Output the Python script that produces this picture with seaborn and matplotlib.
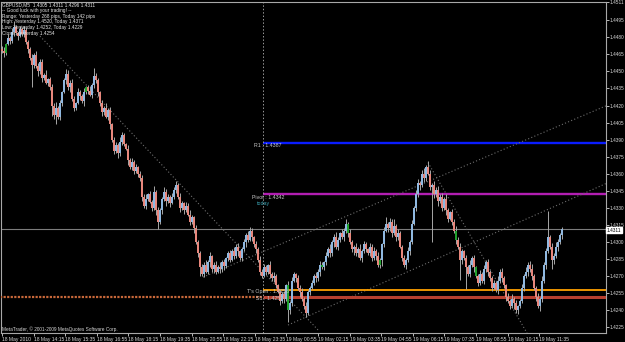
import numpy as np
import pandas as pd
import matplotlib
matplotlib.use("Agg")
import matplotlib.pyplot as plt
from matplotlib import font_manager
import seaborn as sns

# ---------------- data ----------------
BASE = 1.4200
first_open_pips = 270
# closes in pips above 1.4200, one per 5-minute bar
close_pips = [
    268, 266, 274, 279, 277, 285, 289, 284, 281, 287, 283, 286, 276, 270, 262, 256, 264, 255, 250, 258,
    244, 247, 240, 243, 236, 220, 212, 218, 210, 222, 232, 242, 248, 236, 240, 226, 218, 222, 232, 228,
    224, 232, 236, 233, 229, 238, 246, 242, 232, 222, 214, 218, 210, 216, 204, 190, 180, 185, 178, 188,
    194, 186, 182, 172, 166, 170, 162, 166, 160, 156, 140, 132, 138, 142, 135, 130, 144, 128, 118, 128,
    138, 144, 136, 140, 134, 140, 146, 150, 140, 130, 134, 128, 132, 124, 118, 122, 112, 100, 90, 78,
    72, 80, 74, 82, 88, 76, 80, 74, 78, 76, 82, 79, 86, 90, 84, 92, 88, 96, 92, 86,
    94, 100, 106, 102, 110, 104, 98, 94, 84, 74, 70, 78, 74, 80, 72, 68, 70, 62, 56, 48,
    54, 50, 62, 40, 46, 66, 72, 68, 60, 56, 50, 44, 38, 56, 60, 64, 70, 68, 74, 80,
    78, 82, 88, 94, 90, 100, 104, 96, 102, 108, 104, 110, 116, 108, 100, 94, 96, 90, 94, 86,
    92, 98, 94, 90, 96, 86, 92, 88, 80, 84, 98, 110, 116, 112, 118, 108, 114, 104, 108, 96,
    86, 80, 84, 92, 100, 116, 130, 142, 152, 150, 160, 156, 166, 160, 148, 150, 142, 146, 136, 140,
    130, 138, 128, 120, 126, 118, 110, 102, 96, 84, 92, 86, 78, 72, 80, 86, 78, 70, 64, 72,
    66, 76, 82, 74, 68, 60, 64, 58, 66, 74, 68, 62, 52, 48, 44, 50, 46, 40, 44, 48,
    60, 70, 74, 80, 76, 70, 60, 52, 44, 50, 66, 80, 92, 104, 96, 84, 88, 96, 100, 106,
    111,
]
wick_up = [
    2, 3, 1, 4, 2, 3, 5, 2, 1, 3, 2, 4, 3, 2, 1, 3, 2, 4, 2, 3,
    3, 2, 4, 1, 2, 3, 2, 5, 2, 3, 1, 2, 4, 3, 2, 3, 2, 1, 3, 2,
    2, 3, 1, 2, 4, 2, 7, 3, 2, 1, 3, 2, 4, 2, 3, 1, 2, 3, 2, 4,
    3, 2, 1, 3, 2, 4, 2, 3, 1, 2, 3, 2, 4, 1, 3, 2, 5, 2, 3, 2,
    2, 4, 3, 2, 1, 3, 2, 4, 2, 3, 2, 1, 3, 2, 4, 2, 1, 3, 2, 2,
    3, 2, 4, 2, 3, 1, 2, 3, 2, 4, 2, 3, 1, 2, 3, 2, 4, 2, 3, 1,
    2, 3, 2, 4, 3, 2, 1, 3, 2, 4, 2, 3, 2, 1, 3, 2, 4, 2, 1, 3,
    2, 3, 1, 4, 2, 3, 2, 1, 3, 2, 4, 2, 3, 2, 1, 3, 2, 4, 2, 3,
    2, 1, 3, 2, 4, 2, 3, 5, 2, 1, 3, 2, 4, 2, 3, 2, 1, 3, 2, 4,
    2, 3, 2, 1, 3, 2, 4, 2, 3, 2, 1, 3, 6, 2, 3, 2, 6, 2, 3, 2,
    1, 3, 2, 4, 2, 3, 2, 4, 3, 2, 3, 5, 2, 5, 3, 2, 4, 2, 3, 2,
    3, 2, 4, 2, 1, 3, 2, 4, 2, 3, 2, 1, 3, 2, 4, 2, 3, 1, 2, 3,
    2, 4, 2, 3, 1, 2, 3, 2, 4, 2, 3, 2, 1, 3, 2, 4, 2, 3, 1, 2,
    3, 2, 4, 2, 3, 5, 2, 1, 3, 2, 4, 2, 3, 23, 2, 3, 2, 4, 3, 2,
    2,
]
wick_dn = [
    2, 3, 2, 1, 3, 2, 4, 2, 3, 1, 2, 3, 2, 4, 2, 20, 3, 2, 4, 2,
    3, 2, 1, 3, 2, 9, 4, 8, 2, 3, 2, 1, 3, 2, 4, 2, 3, 2, 1, 3,
    2, 4, 2, 3, 1, 2, 3, 2, 4, 2, 3, 2, 1, 3, 5, 2, 3, 2, 4, 2,
    3, 2, 1, 4, 2, 3, 2, 1, 3, 2, 4, 2, 3, 2, 1, 3, 2, 4, 7, 2,
    3, 2, 4, 2, 3, 1, 2, 3, 2, 4, 2, 3, 2, 1, 3, 2, 4, 2, 3, 8,
    2, 3, 1, 2, 4, 2, 3, 2, 1, 3, 2, 4, 2, 3, 2, 1, 3, 2, 4, 2,
    3, 2, 4, 2, 1, 3, 2, 4, 2, 3, 2, 1, 3, 2, 4, 2, 3, 2, 1, 3,
    2, 4, 2, 10, 3, 2, 1, 3, 2, 4, 2, 3, 4, 2, 3, 1, 2, 3, 2, 4,
    2, 3, 2, 1, 3, 2, 4, 2, 3, 2, 1, 3, 2, 4, 2, 3, 5, 2, 3, 2,
    4, 2, 3, 1, 2, 3, 2, 4, 2, 3, 5, 2, 1, 3, 2, 4, 2, 3, 2, 1,
    3, 2, 4, 2, 3, 2, 1, 3, 2, 4, 2, 3, 2, 1, 2, 48, 3, 2, 4, 2,
    3, 2, 4, 2, 1, 3, 2, 4, 2, 17, 3, 2, 19, 2, 3, 2, 4, 2, 3, 2,
    2, 3, 2, 4, 2, 3, 1, 2, 4, 2, 3, 2, 4, 2, 3, 2, 5, 2, 3, 2,
    2, 3, 2, 4, 2, 3, 2, 4, 2, 5, 3, 2, 4, 2, 2, 8, 3, 2, 4, 2,
    3,
]
green_bars = [2, 42, 143, 160, 173, 189, 227, 237]

time_labels = ["18 May 2010", "18 May 14:15", "18 May 15:35", "18 May 16:55", "18 May 18:15",
               "18 May 19:35", "18 May 20:55", "18 May 22:15", "18 May 23:35", "19 May 00:55",
               "19 May 02:15", "19 May 03:35", "19 May 04:55", "19 May 06:15", "19 May 07:35",
               "19 May 08:55", "19 May 10:15", "19 May 11:35"]
price_ticks = [1.4511, 1.4495, 1.4480, 1.4465, 1.4450, 1.4435, 1.4420, 1.4405, 1.4390, 1.4375,
               1.4360, 1.4345, 1.4330, 1.4315, 1.4300, 1.4285, 1.4270, 1.4255, 1.4240, 1.4225]

r1_level = 1.4387
pivot_level = 1.4342
topen_level = 1.4258
s1_level = 1.4252
last_price = 1.4311
day_start_bar = 130.5

# trend lines: (bar, price) end points
trend_names = ["down1", "down1", "down2", "down2", "up_hi", "up_hi", "up_lo", "up_lo"]
trend_bars = [19, 158, 213, 262.5, 100.5, 302, 143, 302]
trend_prices = [1.44810, 1.42227, 1.43698, 1.42200, 1.42691, 1.44197, 1.42270, 1.43514]

info_lines = ["GBPUSD,M5  1.4305 1.4311 1.4296 1.4311",
              "-- Good luck with your trading! --",
              "Range: Yesterday 268 pips, Today 142 pips",
              "High: Yesterday 1.4520, Today 1.4371",
              "Low: Yesterday 1.4252, Today 1.4229",
              "Close: Yesterday 1.4254"]

# ---------------- figure ----------------
sns.set_theme(style="dark")
installed = {f.name for f in font_manager.fontManager.ttflist}
if "Liberation Sans Narrow" in installed:
    FONT, FS = "Liberation Sans Narrow", 4.4
else:
    FONT, FS = "Liberation Sans", 3.8
plt.rcParams["font.family"] = [FONT, "DejaVu Sans"]

W, H = 625, 342
fig = plt.figure(figsize=(W / 100, H / 100), dpi=100, facecolor="black")
ax = fig.add_axes([0.5 / W, (H - 333) / H, 605.5 / W, 331 / H], facecolor="black")
ax.grid(False)

def px(x, y):
    return x / W, 1 - y / H

close = BASE + np.array(close_pips) / 1e4
openp = np.r_[BASE + first_open_pips / 1e4, close[:-1]]
high = np.maximum(openp, close) + np.array(wick_up) / 1e4
low = np.minimum(openp, close) - np.array(wick_dn) / 1e4
bars = np.arange(len(close))

df = pd.DataFrame({"bar": bars, "open": openp, "close": close, "high": high, "low": low})
df["kind"] = np.where(df["close"] >= df["open"], "up", "down")
df.loc[df["bar"].isin(green_bars), "kind"] = "signal"
palette = {"up": "#8fb8e0", "down": "#e8877c", "signal": "#1fa02c"}

# horizontal levels first (behind candles)
xr = 302
ax.axhline(last_price, color="#7c7c7c", lw=0.8, zorder=1)
ax.hlines(r1_level, day_start_bar, xr, color="#0a1cff", lw=1.7, zorder=1)
ax.hlines(pivot_level, day_start_bar, xr, color="#b21eb2", lw=1.7, zorder=1)
ax.hlines(topen_level, day_start_bar, xr, color="#ffa000", lw=1.3, zorder=3)
ax.hlines(s1_level, -1, day_start_bar, color="#c8683a", lw=1.6, linestyles=(0, (1, 0.6)), zorder=3)
ax.hlines(s1_level, day_start_bar, xr, color="#b8402f", lw=2.2, zorder=3)
ax.axvline(day_start_bar, color="#9a9a9a", lw=0.7, ls=(0, (1.5, 2)), zorder=1)

# trend lines
tdf = pd.DataFrame({"line": trend_names, "bar": trend_bars, "price": trend_prices})
sns.lineplot(data=tdf, x="bar", y="price", units="line", estimator=None, color="#6e6e6e",
             lw=0.8, linestyle=(0, (1, 2)), ax=ax, legend=False, zorder=2)

# candles
ax.vlines(df["bar"], df["low"], df["high"], color="#a8a8a8", lw=0.7, zorder=4)
body = (df["close"] - df["open"]).to_numpy()
body = np.where(np.abs(body) < 0.00004, 0.00004, body)
ax.bar(df["bar"], body, bottom=df["open"], width=0.8,
       color=[palette[k] for k in df["kind"]], linewidth=0, zorder=5)

ax.set_xlim(-0.75, -0.75 + 605.5 / 2)
ax.set_ylim(1.42200, 1.45099)
ax.set_xlabel("")
ax.set_ylabel("")

# axes styling
for s in ax.spines.values():
    s.set_color("#a8a8a8")
    s.set_linewidth(0.8)
ax.yaxis.tick_right()
ax.set_yticks(price_ticks)
ax.set_yticklabels([f"{p:.4f}" for p in price_ticks])
tick_pos = np.arange(len(time_labels)) * 15.8
ax.set_xticks(tick_pos)
ax.set_xticklabels(time_labels, ha="left")
ax.tick_params(axis="x", colors="#d8d8d8", labelsize=FS * 0.95, length=2, width=0.6, pad=1.2,
               direction="out", bottom=True)
ax.tick_params(axis="y", colors="#d8d8d8", labelsize=FS * 0.9, length=2, width=0.6, pad=0.8,
               direction="out", right=True, left=False)

# level labels
lab_kw = dict(fontsize=FS, color="#c8c8c8", va="center", ha="left", zorder=6)
fig.text(*px(254, 146), "R1 : 1.4387", **lab_kw)
fig.text(*px(252, 197), "Pivot : 1.4342", **lab_kw)
fig.text(*px(257, 203), "today", fontsize=FS, color="#3aa0b0", va="center", ha="left")
fig.text(*px(247, 292), "T's Open : 1.4258", **lab_kw)
fig.text(*px(256, 298), "S1 : 1.4252", **lab_kw)

for k, line in enumerate(info_lines):
    fig.text(*px(2, 5 + 5.6 * k), line, fontsize=FS * 0.9, color="#e6e6e6", va="center", ha="left")

fig.text(*px(2, 329), "MetaTrader, \u00a9 2001-2009 MetaQuotes Software Corp.", fontsize=FS * 0.9,
         color="#d8d8d8", va="center", ha="left")

fig.text(*px(607, 230), f"{last_price:.4f}", fontsize=FS * 0.9, color="black", va="center", ha="left",
         bbox=dict(boxstyle="square,pad=0.15", fc="white", ec="white"))

fig.savefig("out.png", dpi=100, facecolor="black")
